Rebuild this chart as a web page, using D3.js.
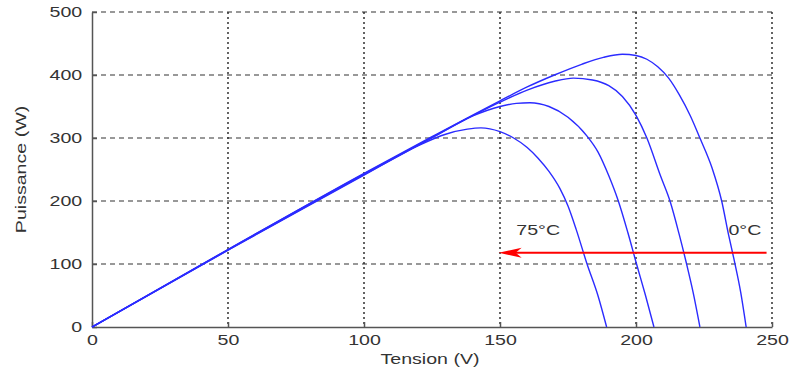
<!DOCTYPE html>
<html>
<head>
<meta charset="utf-8">
<script src="https://cdn.jsdelivr.net/npm/d3@7"></script>
<style>
  body { margin: 0; background: #fff; }
  text { font-family: "Liberation Sans", Arial, sans-serif; fill: #333; }
  .grid-h { stroke: #333; stroke-width: 1.2; stroke-dasharray: 5,4; }
  .grid-v { stroke: #222; stroke-width: 1.4; stroke-dasharray: 2,3; }
  .axis path, .axis line { stroke: #555; stroke-width: 1.5; }
  .curve { fill: none; stroke: #2b2bff; stroke-width: 1.4; }
</style>
</head>
<body>
<div id="chart-container"></div>
<script>
const X_TICKS = [0, 50, 100, 150, 200, 250];
const Y_TICKS = [0, 100, 200, 300, 400, 500];

// tension (V) / puissance (W)
const V_0C = [0, 50, 100, 125, 150, 160, 170, 180, 188, 195, 200, 204, 208, 212, 216, 220, 223.5, 228, 231.5, 234, 236, 238.5, 240.5];
const P_0C = [0, 123, 244, 302, 359, 381, 400, 417, 428, 433, 431, 425, 413, 395, 368, 335, 300, 252, 200, 147, 108, 55, 0];

const V_25C = [0, 50, 100, 125, 150, 160, 170, 177, 184, 190, 195, 200, 204, 209, 212.5, 216, 218.6, 221, 223.5];
const P_25C = [0, 123, 243, 301, 357, 376, 390, 395, 392, 383, 366, 336, 300, 240, 200, 145, 100, 55, 0];

const V_50C = [0, 50, 100, 125, 140, 150, 156, 161, 168, 175, 182, 186, 190, 193.5, 197, 200.2, 203.5, 206.6];
const P_50C = [0, 122, 242, 300, 335, 350, 355, 356, 350, 333, 303, 278, 240, 200, 150, 100, 50, 0];

const V_75C = [0, 50, 100, 120, 130, 138, 143, 150, 155, 160, 164, 168, 172, 175, 178, 182, 186, 189.2];
const P_75C = [0, 122, 241, 288, 306, 314, 316, 310, 300, 285, 268, 247, 220, 192, 155, 100, 50, 0];

const ARROW_P = 118;
const ARROW_FROM = 248;
const ARROW_TO = 149.5;
const LABELS = [
  {text: '75°C', v: 156, p: 146},
  {text: '0°C', v: 234, p: 146}
];

const width = 800,
  height = 370;
const margin = {top: 12, right: 28, bottom: 43, left: 92};
const gWidth = width - margin.left - margin.right;
const gHeight = height - margin.top - margin.bottom;
const STRETCH = 1.4; // the original glyphs are drawn wide

const xScale = d3.scaleLinear().domain([0, 250]).range([0, gWidth]);
const yScale = d3.scaleLinear().domain([0, 500]).range([gHeight, 0]);

const svg = d3.select('div#chart-container')
  .append('svg')
  .attr('width', width)
  .attr('height', height)
  .append('g')
    .attr('transform', `translate(${margin.left}, ${margin.top})`);

// grid
svg.selectAll('line.grid-h')
  .data(Y_TICKS.slice(1))
  .enter().append('line')
  .attr('class', 'grid-h')
  .attr('x1', 0).attr('x2', gWidth)
  .attr('y1', d => yScale(d)).attr('y2', d => yScale(d));
svg.selectAll('line.grid-v')
  .data(X_TICKS.slice(1))
  .enter().append('line')
  .attr('class', 'grid-v')
  .attr('y1', 0).attr('y2', gHeight)
  .attr('x1', d => xScale(d)).attr('x2', d => xScale(d));

// axes, ticks pointing inward
svg.append('g')
  .attr('class', 'x axis')
  .attr('transform', `translate(0, ${gHeight})`)
  .call(d3.axisBottom(xScale).tickValues(X_TICKS).tickSize(-5).tickSizeOuter(0).tickPadding(8))
  .call(g => g.selectAll('text').attr('font-size', 14).attr('transform', `scale(${STRETCH},1)`));
svg.append('g')
  .attr('class', 'y axis')
  .call(d3.axisLeft(yScale).tickValues(Y_TICKS).tickSize(-5).tickSizeOuter(0).tickPadding(7))
  .call(g => g.selectAll('text').attr('font-size', 14).attr('transform', `scale(${STRETCH},1)`));
svg.selectAll('.axis text').attr('fill', '#333');

// curves
const line = d3.line()
  .x(d => xScale(d[0]))
  .y(d => yScale(d[1]))
  .curve(d3.curveMonotoneX);
const series = [[V_0C, P_0C], [V_25C, P_25C], [V_50C, P_50C], [V_75C, P_75C]]
  .map(([vs, ps]) => vs.map((v, i) => [v, ps[i]]));
svg.selectAll('path.curve')
  .data(series)
  .enter().append('path')
  .attr('class', 'curve')
  .attr('d', line);

// red arrow
const ay = yScale(ARROW_P);
svg.append('line')
  .attr('x1', xScale(ARROW_FROM)).attr('x2', xScale(ARROW_TO) + 16)
  .attr('y1', ay).attr('y2', ay)
  .attr('stroke', '#ff0000').attr('stroke-width', 2);
const tip = xScale(ARROW_TO);
svg.append('path')
  .attr('d', `M${tip},${ay} L${tip + 23},${ay - 5} L${tip + 17},${ay} L${tip + 23},${ay + 5} Z`)
  .attr('fill', '#ff0000');

// temperature labels
svg.selectAll('text.label')
  .data(LABELS)
  .enter().append('text')
  .attr('class', 'label')
  .attr('font-size', 14)
  .attr('transform', d => `translate(${xScale(d.v)}, ${yScale(d.p)}) scale(${STRETCH},1)`)
  .text(d => d.text);

// axis titles
svg.append('text')
  .attr('font-size', 14)
  .attr('text-anchor', 'middle')
  .attr('transform', `translate(${gWidth / 2 - 2}, ${gHeight + 37}) scale(${STRETCH},1)`)
  .text('Tension (V)');
svg.append('text')
  .attr('font-size', 14)
  .attr('text-anchor', 'middle')
  .attr('transform', `translate(${-66}, ${gHeight / 2}) rotate(-90) scale(${STRETCH},1)`)
  .text('Puissance (W)');
</script>
</body>
</html>
